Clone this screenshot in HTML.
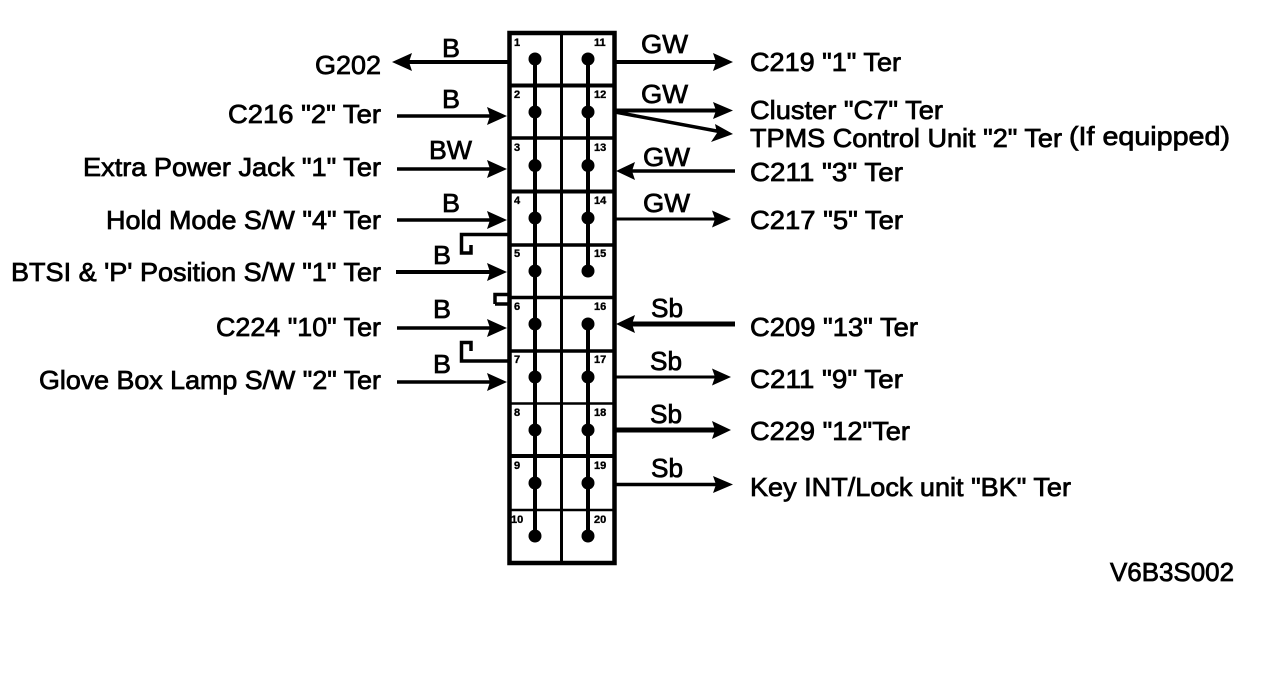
<!DOCTYPE html>
<html><head><meta charset="utf-8"><style>
html,body{margin:0;padding:0;background:#fff;width:1264px;height:678px;overflow:hidden}
svg{display:block}
text{font-family:"Liberation Sans",sans-serif;fill:#000;stroke:#000;stroke-width:.75px}
.l{font-size:26px}
.n{font-size:11px;font-weight:bold;stroke-width:.35px}
</style></head><body>
<svg width="1264" height="678" viewBox="0 0 1264 678" xmlns="http://www.w3.org/2000/svg">
<rect width="1264" height="678" fill="#fff"/>
<!-- connector box -->
<g stroke="#000" fill="none" stroke-linecap="butt">
<rect x="509.500" y="33" width="105" height="530" stroke-width="4.500"/>
<path d="M561.500 33V563" stroke-width="3"/>
<path d="M509 85.500H615" stroke-width="4"/>
<path d="M509 138H615" stroke-width="3.500"/>
<path d="M509 191.500H615" stroke-width="4"/>
<path d="M509 245H615" stroke-width="3.500"/>
<path d="M509 297.500H615" stroke-width="3.500"/>
<path d="M509 351H615" stroke-width="3.500"/>
<path d="M509 403.500H615" stroke-width="2.500"/>
<path d="M509 456H615" stroke-width="4"/>
<path d="M509 510H615" stroke-width="2.500"/>
<path d="M535 59V536" stroke-width="4"/>
<path d="M588 59V271" stroke-width="4"/>
<path d="M588 323V536" stroke-width="4"/>
<!-- jumpers -->
<path d="M508 234.500H461.500V253H471V245" stroke-width="3.500"/>
<path d="M495 304V294.500H508" stroke-width="3.500"/>
<path d="M495 304H508" stroke-width="3.500"/>
<path d="M508 361H461.500V342.500H471V351" stroke-width="3.500"/>
</g>
<g fill="#000">
<circle cx="535" cy="59" r="6.500"/><circle cx="588" cy="59" r="6.500"/>
<circle cx="535" cy="112" r="6.500"/><circle cx="588" cy="112" r="6.500"/>
<circle cx="535" cy="165.500" r="6.500"/><circle cx="588" cy="165.500" r="6.500"/>
<circle cx="535" cy="218" r="6.500"/><circle cx="588" cy="218" r="6.500"/>
<circle cx="535" cy="271" r="6.500"/><circle cx="588" cy="271" r="6.500"/>
<circle cx="535" cy="324" r="6.500"/><circle cx="588" cy="324" r="6.500"/>
<circle cx="535" cy="377" r="6.500"/><circle cx="588" cy="377" r="6.500"/>
<circle cx="535" cy="430" r="6.500"/><circle cx="588" cy="430" r="6.500"/>
<circle cx="535" cy="483" r="6.500"/><circle cx="588" cy="483" r="6.500"/>
<circle cx="535" cy="536" r="6.500"/><circle cx="588" cy="536" r="6.500"/>
</g>
<!-- arrows -->
<g stroke="#000" fill="none">
<path d="M509 62H405" stroke-width="4"/>
<path d="M397 116H495" stroke-width="3.500"/>
<path d="M397 169H495" stroke-width="3.500"/>
<path d="M397 220H495" stroke-width="3.500"/>
<path d="M396 272H495" stroke-width="4"/>
<path d="M397 328H495" stroke-width="3.500"/>
<path d="M397 382H495" stroke-width="3.500"/>
<path d="M615 62H722" stroke-width="4"/>
<path d="M615 110.500H722" stroke-width="4"/>
<path d="M615 112L722 132" stroke-width="3.500"/>
<path d="M626 171H735" stroke-width="3.500"/>
<path d="M615 219H720" stroke-width="3"/>
<path d="M626 324H735" stroke-width="5"/>
<path d="M615 377H720" stroke-width="3"/>
<path d="M615 430H720" stroke-width="5"/>
<path d="M615 484.500H722" stroke-width="3.500"/>
</g>
<g fill="#000">
<polygon points="392,62 412,53 409,62 412,71"/>
<polygon points="507,116 487,107 490,116 487,125"/>
<polygon points="507,169 487,160 490,169 487,178"/>
<polygon points="507,220 487,211 490,220 487,229"/>
<polygon points="507,272 487,263 490,272 487,281"/>
<polygon points="507,328 487,319 490,328 487,337"/>
<polygon points="507,382 487,373 490,382 487,391"/>
<polygon points="733,62 713,53 716,62 713,71"/>
<polygon points="733,110.500 713,102 716,110.500 713,119"/>
<polygon points="733,134 715,124 717,133 711,142"/>
<polygon points="616,171 635,162 632,171 635,180"/>
<polygon points="731,219 712,210.500 715,219 712,227.500"/>
<polygon points="616,324 635,315 632,324 635,333"/>
<polygon points="731,377 712,368.500 715,377 712,385.500"/>
<polygon points="731,430 712,421 715,430 712,439"/>
<polygon points="733,484.500 713,476 716,484.500 713,493"/>
</g>
<!-- left labels -->
<g class="l">
<text class="l" x="315" y="74" textLength="66" lengthAdjust="spacingAndGlyphs">G202</text>
<text class="l" x="228" y="123" textLength="153" lengthAdjust="spacingAndGlyphs">C216 "2" Ter</text>
<text class="l" x="83" y="176" textLength="298" lengthAdjust="spacingAndGlyphs">Extra Power Jack "1" Ter</text>
<text class="l" x="106" y="229" textLength="275" lengthAdjust="spacingAndGlyphs">Hold Mode S/W "4" Ter</text>
<text class="l" x="11" y="281" textLength="370" lengthAdjust="spacingAndGlyphs">BTSI &amp; 'P' Position S/W "1" Ter</text>
<text class="l" x="216" y="336" textLength="165" lengthAdjust="spacingAndGlyphs">C224 "10" Ter</text>
<text class="l" x="39" y="389" textLength="342" lengthAdjust="spacingAndGlyphs">Glove Box Lamp S/W "2" Ter</text>
<!-- right labels -->
<text class="l" x="750" y="71" textLength="151" lengthAdjust="spacingAndGlyphs">C219 "1" Ter</text>
<text class="l" x="750" y="119" textLength="193" lengthAdjust="spacingAndGlyphs">Cluster "C7" Ter</text>
<text class="l" x="750" y="147" textLength="312" lengthAdjust="spacingAndGlyphs">TPMS Control Unit "2" Ter</text>
<text class="l" x="1069" y="145" textLength="161" lengthAdjust="spacingAndGlyphs">(If equipped)</text>
<text class="l" x="750" y="181" textLength="153" lengthAdjust="spacingAndGlyphs">C211 "3" Ter</text>
<text class="l" x="750" y="229" textLength="153" lengthAdjust="spacingAndGlyphs">C217 "5" Ter</text>
<text class="l" x="750" y="336" textLength="168" lengthAdjust="spacingAndGlyphs">C209 "13" Ter</text>
<text class="l" x="750" y="388" textLength="153" lengthAdjust="spacingAndGlyphs">C211 "9" Ter</text>
<text class="l" x="750" y="440" textLength="160" lengthAdjust="spacingAndGlyphs">C229 "12"Ter</text>
<text class="l" x="750" y="496" textLength="321" lengthAdjust="spacingAndGlyphs">Key INT/Lock unit "BK" Ter</text>
<text class="l" x="1110" y="581" textLength="124" lengthAdjust="spacingAndGlyphs">V6B3S002</text>
<!-- wire labels -->
<text class="l" x="442" y="57" textLength="18" lengthAdjust="spacingAndGlyphs">B</text>
<text class="l" x="442" y="108" textLength="18" lengthAdjust="spacingAndGlyphs">B</text>
<text class="l" x="429" y="159" textLength="43" lengthAdjust="spacingAndGlyphs">BW</text>
<text class="l" x="442" y="212" textLength="18" lengthAdjust="spacingAndGlyphs">B</text>
<text class="l" x="433" y="264" textLength="18" lengthAdjust="spacingAndGlyphs">B</text>
<text class="l" x="433" y="318" textLength="18" lengthAdjust="spacingAndGlyphs">B</text>
<text class="l" x="433" y="373" textLength="18" lengthAdjust="spacingAndGlyphs">B</text>
<text class="l" x="641" y="53" textLength="47" lengthAdjust="spacingAndGlyphs">GW</text>
<text class="l" x="641" y="103" textLength="47" lengthAdjust="spacingAndGlyphs">GW</text>
<text class="l" x="643" y="166" textLength="47" lengthAdjust="spacingAndGlyphs">GW</text>
<text class="l" x="643" y="212" textLength="47" lengthAdjust="spacingAndGlyphs">GW</text>
<text class="l" x="651" y="317" textLength="32" lengthAdjust="spacingAndGlyphs">Sb</text>
<text class="l" x="650" y="370" textLength="32" lengthAdjust="spacingAndGlyphs">Sb</text>
<text class="l" x="650" y="423" textLength="32" lengthAdjust="spacingAndGlyphs">Sb</text>
<text class="l" x="651" y="477" textLength="32" lengthAdjust="spacingAndGlyphs">Sb</text>
</g>
<!-- terminal numbers -->
<text class="n" x="514" y="46">1</text>
<text class="n" x="514" y="98">2</text>
<text class="n" x="514" y="151">3</text>
<text class="n" x="514" y="204">4</text>
<text class="n" x="514" y="257">5</text>
<text class="n" x="514" y="310">6</text>
<text class="n" x="514" y="363">7</text>
<text class="n" x="514" y="416">8</text>
<text class="n" x="514" y="469">9</text>
<text class="n" x="511" y="523">10</text>
<text class="n" x="594" y="46">11</text>
<text class="n" x="594" y="98">12</text>
<text class="n" x="594" y="151">13</text>
<text class="n" x="594" y="204">14</text>
<text class="n" x="594" y="257">15</text>
<text class="n" x="594" y="310">16</text>
<text class="n" x="594" y="363">17</text>
<text class="n" x="594" y="416">18</text>
<text class="n" x="594" y="469">19</text>
<text class="n" x="594" y="523">20</text>
</svg>
</body></html>
